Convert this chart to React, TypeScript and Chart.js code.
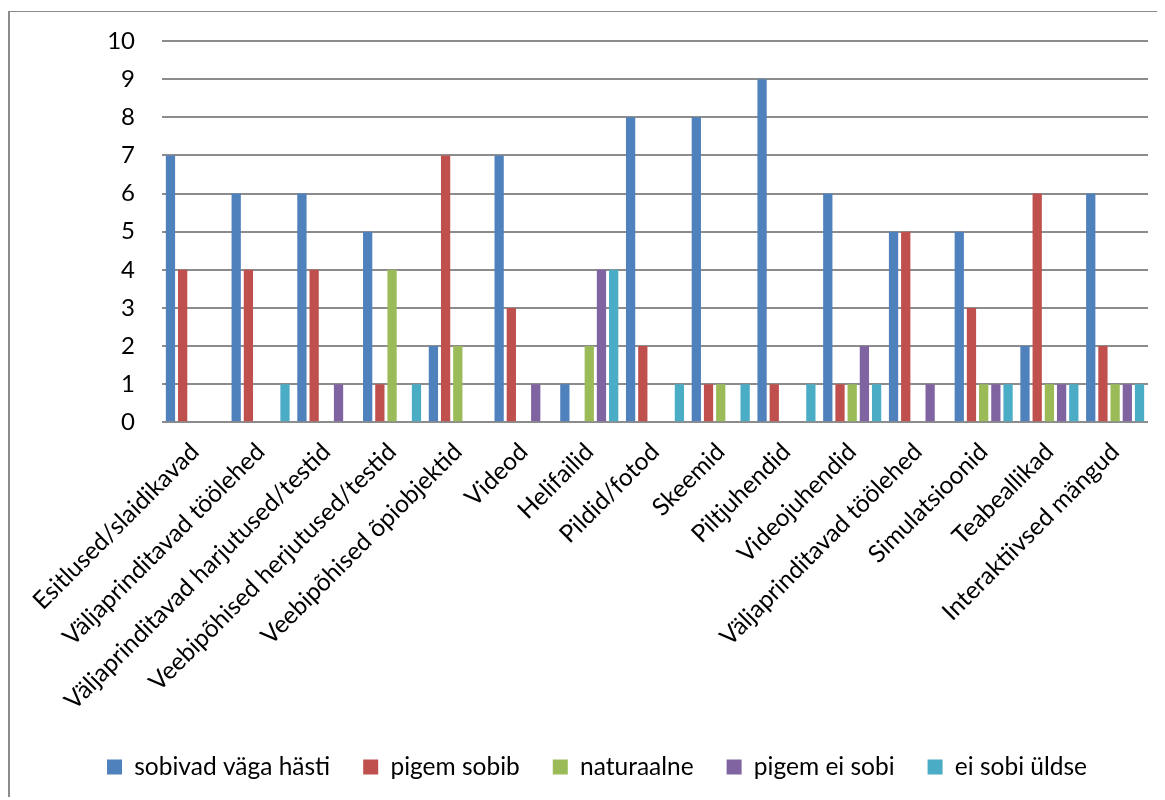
import { useEffect, useRef } from "react";
import { Chart, registerables } from "chart.js";

Chart.register(...registerables);

const categories = [
  "Esitlused/slaidikavad",
  "Väljaprinditavad töölehed",
  "Väljaprinditavad harjutused/testid",
  "Veebipõhised herjutused/testid",
  "Veebipõhised õpiobjektid",
  "Videod",
  "Helifailid",
  "Pildid/fotod",
  "Skeemid",
  "Piltjuhendid",
  "Videojuhendid",
  "Väljaprinditavad töölehed",
  "Simulatsioonid",
  "Teabeallikad",
  "Interaktiivsed mängud",
];

const seriesNames = [
  "sobivad väga hästi",
  "pigem sobib",
  "naturaalne",
  "pigem ei sobi",
  "ei sobi üldse",
];

const sobivadVagaHasti = [7, 6, 6, 5, 2, 7, 1, 8, 8, 9, 6, 5, 5, 2, 6];
const pigemSobib = [4, 4, 4, 1, 7, 3, 0, 2, 1, 1, 1, 5, 3, 6, 2];
const naturaalne = [0, 0, 0, 4, 2, 0, 2, 0, 1, 0, 1, 0, 1, 1, 1];
const pigemEiSobi = [0, 0, 1, 0, 0, 1, 4, 0, 0, 0, 2, 1, 1, 1, 1];
const eiSobiUldse = [0, 1, 0, 1, 0, 0, 4, 1, 1, 1, 1, 0, 1, 1, 1];

const yTicks = [0, 1, 2, 3, 4, 5, 6, 7, 8, 9, 10];

const seriesColors = ["#4F81BD", "#C0504D", "#9BBB59", "#8064A2", "#4BACC6"];

const FONT = "Lato, 'Open Sans', sans-serif";

export default function App() {
  const ref = useRef<HTMLCanvasElement>(null);

  useEffect(() => {
    document.body.style.overflow = "hidden";
    const values = [sobivadVagaHasti, pigemSobib, naturaalne, pigemEiSobi, eiSobiUldse];
    const chart = new Chart(ref.current as HTMLCanvasElement, {
      type: "bar",
      data: {
        labels: categories,
        datasets: seriesNames.map((name, i) => ({
          label: name,
          data: values[i],
          backgroundColor: seriesColors[i],
          borderWidth: 0,
          categoryPercentage: 0.928,
          barPercentage: 0.76,
        })),
      },
      options: {
        responsive: false,
        animation: false,
        devicePixelRatio: 1,
        layout: { padding: { top: 29, right: 17, bottom: 10.75, left: 36 } },
        scales: {
          y: {
            min: 0,
            max: 10,
            afterBuildTicks: (s: any) => {
              s.ticks = yTicks.map((v) => ({ value: v }));
            },
            afterFit: (s: any) => {
              s.width = 116;
            },
            ticks: {
              color: "#000",
              padding: 0,
              font: { family: FONT, size: 24 },
            },
            grid: {
              color: "#8c8c8c",
              lineWidth: 2,
              drawTicks: true,
              tickLength: 27,
              tickColor: "rgba(0,0,0,0)",
            },
            border: { display: false },
          },
          x: {
            afterFit: (s: any) => {
              s.height = 299.45;
              s.paddingLeft = 0;
              s.paddingRight = 0;
            },
            ticks: {
              color: "#000",
              minRotation: 45,
              maxRotation: 45,
              autoSkip: false,
              padding: 15,
              font: { family: FONT, size: 24.5 },
            },
            grid: { display: false, drawTicks: false },
            border: { display: false },
          },
        },
        plugins: {
          legend: {
            position: "bottom",
            labels: {
              color: "#000",
              boxWidth: 15,
              boxHeight: 15,
              padding: 33,
              font: { family: FONT, size: 24.5 },
            },
          },
          tooltip: { enabled: false },
        },
      },
    });
    return () => chart.destroy();
  }, []);

  return (
    <div
      style={{
        position: "relative",
        top: 3,
        width: 1157,
        height: 789,
        boxSizing: "border-box",
        borderLeft: "2px solid #8c8c8c",
        borderTop: "1px solid #8c8c8c",
        overflow: "hidden",
      }}
    >
      <canvas ref={ref} width={1155} height={788} style={{ display: "block" }} />
    </div>
  );
}
